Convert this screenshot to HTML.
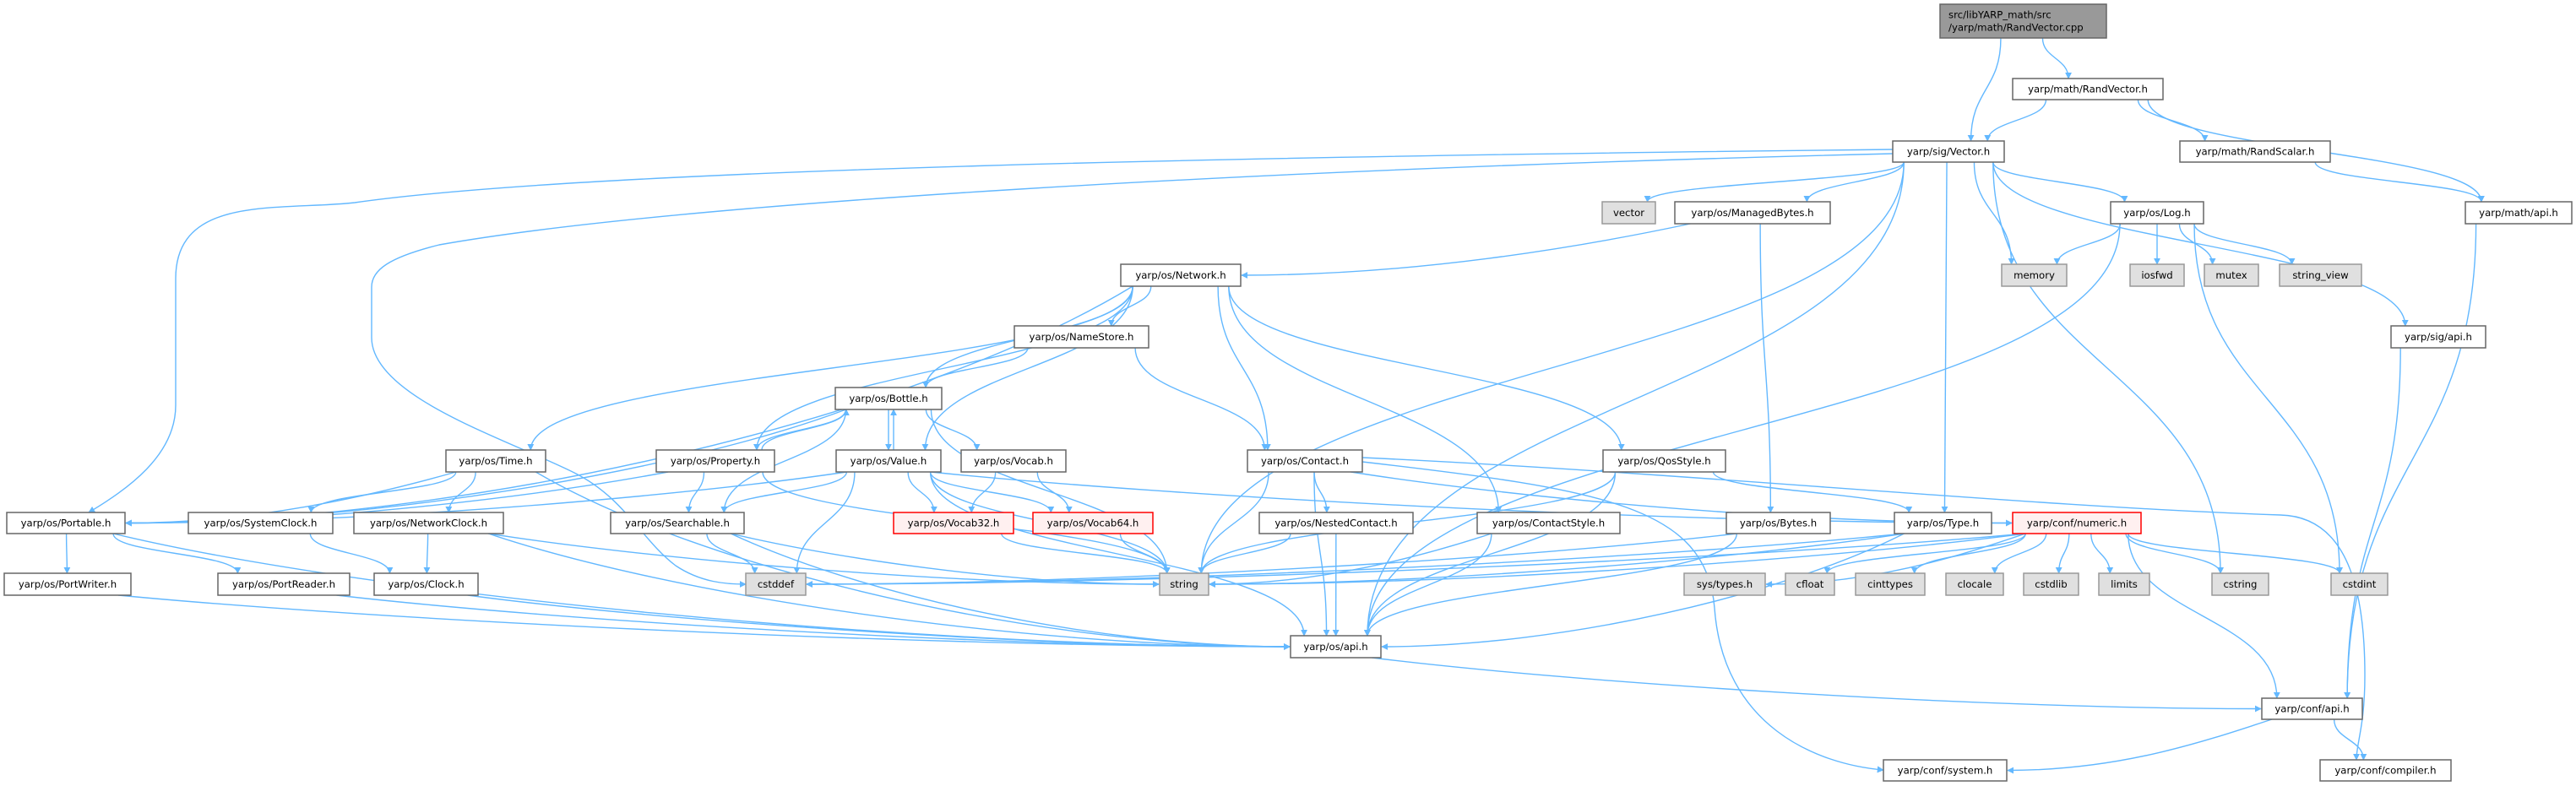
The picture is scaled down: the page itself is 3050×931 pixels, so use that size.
<!DOCTYPE html>
<html><head><meta charset="utf-8">
<style>
html,body{margin:0;padding:0;background:#fff;}
svg{display:block;}
text{font-family:"DejaVu Sans","Liberation Sans",sans-serif;font-size:11.7px;fill:#000;}
</style></head>
<body>
<svg id="g" xmlns="http://www.w3.org/2000/svg" width="3050" height="931" viewBox="0 0 3050 931">
<defs>
<marker id="ah" viewBox="0 0 10 10" refX="9" refY="5" markerWidth="8" markerHeight="8" markerUnits="userSpaceOnUse" orient="auto">
<path d="M0,0 L10,5 L0,10 z" fill="#63b8ff"/>
</marker>
</defs>
<g id="edges" fill="none" stroke="#63b8ff" stroke-width="1.4"></g>
<g id="nodes"></g>
</svg>
<script>
var N={
root:[2297,5,2494,45,"src/libYARP_math/src|/yarp/math/RandVector.cpp","d"],
rvh:[2383,93,2561,118,"yarp/math/RandVector.h"],
vec:[2241,167,2373,192,"yarp/sig/Vector.h"],
rsc:[2581,167,2759,192,"yarp/math/RandScalar.h"],
mapi:[2919,239,3045,265,"yarp/math/api.h"],
vector:[1897,239,1960,265,"vector","g"],
mb:[1983,239,2167,265,"yarp/os/ManagedBytes.h"],
log:[2499,239,2609,265,"yarp/os/Log.h"],
memory:[2370,313,2447,339,"memory","g"],
iosfwd:[2522,313,2586,339,"iosfwd","g"],
mutex:[2610,313,2674,339,"mutex","g"],
sv:[2699,313,2796,339,"string_view","g"],
net:[1327,313,1469,339,"yarp/os/Network.h"],
sapi:[2831,386,2943,412,"yarp/sig/api.h"],
ns:[1201,386,1360,412,"yarp/os/NameStore.h"],
bottle:[989,459,1115,485,"yarp/os/Bottle.h"],
time:[528,533,646,559,"yarp/os/Time.h"],
prop:[777,533,917,559,"yarp/os/Property.h"],
value:[990,533,1114,559,"yarp/os/Value.h"],
vocab:[1138,533,1262,559,"yarp/os/Vocab.h"],
contact:[1477,533,1613,559,"yarp/os/Contact.h"],
qos:[1898,533,2043,559,"yarp/os/QosStyle.h"],
portable:[8,607,148,632,"yarp/os/Portable.h"],
sysclock:[223,607,394,632,"yarp/os/SystemClock.h"],
netclock:[419,607,596,632,"yarp/os/NetworkClock.h"],
search:[723,607,881,632,"yarp/os/Searchable.h"],
v32:[1058,607,1200,632,"yarp/os/Vocab32.h","r"],
v64:[1223,607,1365,632,"yarp/os/Vocab64.h","r"],
nested:[1491,607,1673,632,"yarp/os/NestedContact.h"],
cstyle:[1749,607,1918,632,"yarp/os/ContactStyle.h"],
bytes:[2044,607,2167,632,"yarp/os/Bytes.h"],
type:[2243,607,2358,632,"yarp/os/Type.h"],
numeric:[2383,607,2535,632,"yarp/conf/numeric.h","r"],
pw:[5,679,155,705,"yarp/os/PortWriter.h"],
pr:[258,679,414,705,"yarp/os/PortReader.h"],
clock:[443,679,566,705,"yarp/os/Clock.h"],
cstddef:[883,679,954,705,"cstddef","g"],
string:[1373,679,1431,705,"string","g"],
systypes:[1994,679,2090,705,"sys/types.h","g"],
cfloat:[2114,679,2172,705,"cfloat","g"],
cinttypes:[2197,679,2279,705,"cinttypes","g"],
clocale:[2304,679,2372,705,"clocale","g"],
cstdlib:[2396,679,2461,705,"cstdlib","g"],
limits:[2485,679,2545,705,"limits","g"],
cstring:[2619,679,2686,705,"cstring","g"],
cstdint:[2760,679,2827,705,"cstdint","g"],
osapi:[1528,753,1635,779,"yarp/os/api.h"],
confapi:[2678,827,2797,852,"yarp/conf/api.h"],
system:[2230,900,2376,925,"yarp/conf/system.h"],
compiler:[2747,900,2902,925,"yarp/conf/compiler.h"]
};
var E=[
["root","vec"],["root","rvh"],["rvh","vec"],["rvh","rsc"],["rvh","mapi"],["rsc","mapi"],["mapi","confapi"],
["vec","vector"],["vec","mb"],["vec","memory"],["vec","log"],["vec","sapi"],["vec","type"],["vec","cstring"],["vec","string"],["vec","osapi"],
["mb","net"],["mb","bytes"],
["log","memory"],["log","iosfwd"],["log","mutex"],["log","sv"],["log","cstdint"],["log","osapi"],
["sapi","confapi"],
["net","ns"],["net","time"],["net","prop"],["net","value"],["net","contact"],["net","cstyle"],["net","qos"],["net","portable"],["net","bottle"],
["ns","bottle"],["ns","contact"],
["bottle","value"],["bottle","vocab"],["bottle","string"],["bottle","portable"],["bottle","prop"],["bottle","search"],
["value","bottle"],["value","v32"],["value","v64"],["value","search"],["value","portable"],["value","cstddef"],["value","string"],["value","numeric"],["value","osapi"],
["vocab","v32"],["vocab","v64"],["v32","string"],["v64","string"],
["prop","bottle"],["prop","search"],["prop","portable"],["prop","string"],
["time","portable"],["time","sysclock"],["time","netclock"],["time","osapi"],
["portable","pw"],["portable","pr"],["portable","osapi"],
["sysclock","clock"],["netclock","clock"],["netclock","string"],["netclock","osapi"],
["search","cstddef"],["search","string"],["search","osapi"],
["clock","osapi"],["pw","osapi"],["pr","osapi"],
["contact","string"],["contact","nested"],["contact","osapi"],["contact","numeric"],
["nested","string"],["nested","osapi"],["cstyle","string"],["cstyle","osapi"],
["qos","string"],["qos","osapi"],["qos","type"],
["bytes","cstddef"],["bytes","osapi"],
["type","string"],["type","osapi"],["type","cstddef"],
["numeric","systypes"],["numeric","cfloat"],["numeric","cinttypes"],["numeric","clocale"],["numeric","cstdlib"],["numeric","limits"],["numeric","cstring"],["numeric","cstdint"],["numeric","confapi"],["numeric","string"],["numeric","cstddef"],
["osapi","confapi"],["confapi","system"],["confapi","compiler"]
];
var SP='http://www.w3.org/2000/svg';
var eg=document.getElementById('edges'),ng=document.getElementById('nodes');
function P(d){var p=document.createElementNS(SP,'path');p.setAttribute('d',d);p.setAttribute('marker-end','url(#ah)');eg.appendChild(p);}
function cl(v,a){return Math.max(-a,Math.min(a,v));}
E.forEach(function(e){
 var s=N[e[0]],t=N[e[1]];
 var scx=(s[0]+s[2])/2,tcx=(t[0]+t[2])/2,scy=(s[1]+s[3])/2,tcy=(t[1]+t[3])/2;
 var sw=(s[2]-s[0])/2,tw=(t[2]-t[0])/2;
 if(t[1]>s[1]+5){
  var dx=tcx-scx,dy=t[1]-s[3];
  var sx=scx+cl(dx*0.3,sw*0.8),sy=s[3];
  if(Math.abs(dx)>4*(t[1]-s[3])+200){
   var side=dx>0?t[0]:t[2];var ty=tcy;
   P('M'+sx+','+sy+' C'+(sx+dx*0.2)+','+(sy+dy*0.6)+' '+(side-dx*0.3)+','+ty+' '+(side-(dx>0?1:-1))+','+ty);
  } else {
   var tx=tcx-cl(dx*0.3,tw*0.7),ty=t[1];
   P('M'+sx+','+sy+' C'+sx+','+(sy+dy*0.5)+' '+tx+','+(ty-dy*0.5)+' '+tx+','+ty);
  }
 } else if(t[1]<s[1]-5){
  var dx=tcx-scx,dy=s[1]-t[3];
  var sx=scx+cl(dx*0.3,sw*0.7)+6,tx=tcx-cl(dx*0.3,tw*0.7)+(e[0]=='value'?6:-6);
  P('M'+sx+','+s[1]+' C'+sx+','+(s[1]-dy*0.5)+' '+tx+','+(t[3]+dy*0.5)+' '+tx+','+t[3]);
 } else {
  var a=tcx>scx?s[2]:s[0],b=tcx>scx?t[0]:t[2];
  P('M'+a+','+scy+' L'+b+','+tcy);
 }
});
// long custom routes
P('M2241,177 C1500,185 700,200 420,240 C330,250 208,230 208,330 L208,480 C208,540 150,580 105,607');
P('M2241,182 C1500,200 800,240 520,290 C460,305 440,320 440,340 L440,400 C440,470 600,520 680,560 C740,590 760,640 800,670 C830,690 860,692 883,692');
P('M1613,547 C1900,580 2020,600 2030,720 C2040,860 2150,905 2230,912');
P('M1613,542 C2000,560 2400,600 2700,610 C2780,612 2800,700 2800,800 C2800,860 2790,880 2790,900');
for(var k in N){
 var n=N[k],g=document.createElementNS(SP,'g');
 var r=document.createElementNS(SP,'rect');
 r.setAttribute('x',n[0]);r.setAttribute('y',n[1]);r.setAttribute('width',n[2]-n[0]);r.setAttribute('height',n[3]-n[1]);
 var f='#fff',st='#666';
 if(n[5]=='g'){f='#e0e0e0';st='#999';}
 if(n[5]=='r'){f='#fff0f0';st='#f00';}
 if(n[5]=='d'){f='#999';st='#666';}
 r.setAttribute('fill',f);r.setAttribute('stroke',st);r.setAttribute('stroke-width','1.5');
 g.appendChild(r);
 var lines=n[4].split('|');
 var cx=(n[0]+n[2])/2,cy=(n[1]+n[3])/2;
 lines.forEach(function(l,i){
  var t=document.createElementNS(SP,'text');
  var x=lines.length>1?n[0]+10:cx;
  t.setAttribute('x',x);
  t.setAttribute('y',cy+4+(i-(lines.length-1)/2)*15);
  if(lines.length==1)t.setAttribute('text-anchor','middle');
  t.textContent=l;g.appendChild(t);
 });
 ng.appendChild(g);
}
</script>
</body></html>
